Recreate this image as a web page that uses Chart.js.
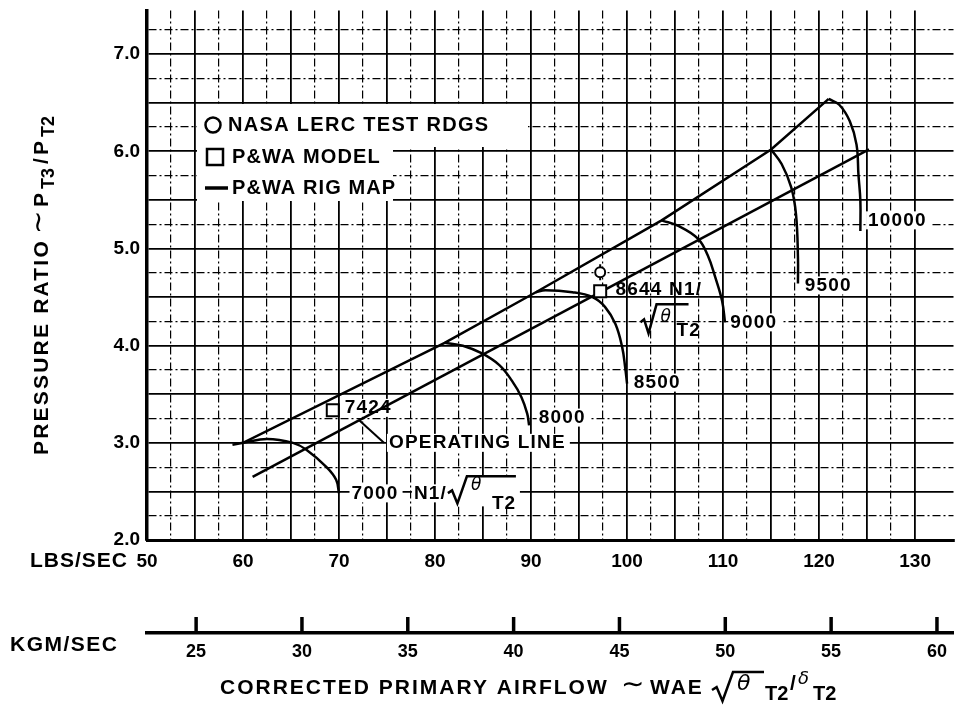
<!DOCTYPE html>
<html>
<head>
<meta charset="utf-8">
<script src="https://cdn.jsdelivr.net/npm/chart.js@4.4.0/dist/chart.umd.min.js"></script>
<style>
  html, body { margin: 0; padding: 0; background: #fff; }
  #wrap { width: 964px; height: 708px; }
</style>
</head>
<body>
<div id="wrap"><canvas id="mapChart" width="964" height="708"></canvas></div>
<script>
// compressor map values (airflow lbs/sec, pressure ratio)
var surgeX = [58.9, 60.0, 81.0, 90.5, 103.6, 115.0, 121.0];
var surgeY = [2.98, 3.00, 4.03, 4.55, 5.29, 6.02, 6.54];

var opLineX = [61.0, 125.2];
var opLineY = [2.65, 6.02];

var speedNames = ['7000', '8000', '8500', '9000', '9500', '10000'];
var speedX = [
  [60.0, 62.5, 65.2, 66.6, 68.7, 69.7, 70.0],
  [81.0, 82.9, 84.9, 86.7, 88.0, 89.0, 89.6, 89.8],
  [90.5, 91.5, 94.3, 96.4, 97.7, 98.8, 99.5, 99.8, 100.0],
  [103.6, 105.4, 107.4, 108.4, 109.2, 109.9, 110.2],
  [115.0, 116.1, 117.1, 117.6, 117.8, 117.8],
  [121.0, 122.1, 123.2, 123.9, 124.1, 124.3, 124.3]
];
var speedY = [
  [3.00, 3.04, 3.00, 2.93, 2.75, 2.62, 2.48],
  [4.03, 4.00, 3.92, 3.80, 3.64, 3.47, 3.30, 3.18],
  [4.55, 4.57, 4.55, 4.50, 4.40, 4.22, 3.98, 3.78, 3.61],
  [5.29, 5.23, 5.10, 4.93, 4.70, 4.46, 4.24],
  [6.02, 5.87, 5.63, 5.35, 4.91, 4.64],
  [6.54, 6.48, 6.31, 6.07, 5.76, 5.49, 5.18]
];

var nasaX = [97.2];
var nasaY = [4.755];
var modelX = [69.35, 97.2];
var modelY = [3.335, 4.56];

// tick labels
var lbsTicks = [50, 60, 70, 80, 90, 100, 110, 120, 130];
var kgTicks = [25, 30, 35, 40, 45, 50, 55, 60];
var prTicks = [2, 3, 4, 5, 6, 7];
var LB_PER_KG = 2.20462;

// text annotations (anchor = left/middle, in data units)
var noteText = ['7424', 'OPERATING LINE', '7000', 'N1/', '8000', '8500', '8644 N1/', '9000', '9500', '10000'];
var noteX = [70.6, 75.2, 71.3, 77.8, 90.8, 100.7, 98.8, 110.75, 118.5, 125.1];
var noteY = [3.36, 3.00, 2.48, 2.48, 3.26, 3.62, 4.58, 4.24, 4.62, 5.29];

var FONT = '"Liberation Sans", Arial, Helvetica, sans-serif';
var NOTE_FONT = 'bold 19px ' + FONT;

function pts(xs, ys) {
  return xs.map(function (x, i) { return { x: x, y: ys[i] }; });
}

var datasets = [];
datasets.push({ label: 'NASA LERC TEST RDGS', data: pts(nasaX, nasaY), pointStyle: 'circle',
  pointRadius: 5, borderColor: '#000', backgroundColor: '#fff', borderWidth: 2, order: 0 });
datasets.push({ label: 'nasa bar', data: pts(nasaX, nasaY), pointStyle: 'line', pointRotation: 90,
  pointRadius: 8, borderColor: '#000', borderWidth: 2, order: 0 });
datasets.push({ label: 'P&WA MODEL', data: pts(modelX, modelY), pointStyle: 'rect',
  pointRadius: 8.5, borderColor: '#000', backgroundColor: '#fff', borderWidth: 2, order: 0 });
datasets.push({ label: 'model mark', data: pts(modelX, modelY), pointStyle: 'line', pointRotation: [0, 45],
  pointRadius: 4.5, borderColor: '#000', borderWidth: 1.5, order: 0 });
datasets.push({ label: 'P&WA RIG MAP', data: pts(surgeX, surgeY), showLine: true, pointRadius: 0,
  borderColor: '#000', borderWidth: 2.5, tension: 0, order: 1 });
datasets.push({ label: 'OPERATING LINE', data: pts(opLineX, opLineY), showLine: true, pointRadius: 0,
  borderColor: '#000', borderWidth: 2.5, tension: 0, order: 1 });
for (var s = 0; s < speedNames.length; s++) {
  datasets.push({ label: speedNames[s], data: pts(speedX[s], speedY[s]), showLine: true, pointRadius: 0,
    borderColor: '#000', borderWidth: 2.5, tension: 0.4, order: 1 });
}

function txt(ctx, str, x, y, font, ls, align) {
  ctx.font = font;
  ctx.letterSpacing = ls || '0px';
  ctx.textAlign = align || 'left';
  ctx.textBaseline = 'middle';
  ctx.fillText(str, x, y);
  var w = ctx.measureText(str).width;
  ctx.letterSpacing = '0px';
  return w;
}

function radical(ctx, x, y, h, w, end) {
  ctx.beginPath();
  ctx.moveTo(x, y + h * 0.62);
  ctx.lineTo(x + w * 0.22, y + h * 0.52);
  ctx.lineTo(x + w * 0.5, y + h);
  ctx.lineTo(x + w, y);
  ctx.lineTo(end, y);
  ctx.lineWidth = 2.5;
  ctx.strokeStyle = '#000';
  ctx.stroke();
}

var overlay = {
  id: 'overlay',
  beforeDatasetsDraw: function (chart) {
    var ctx = chart.ctx, sx = chart.scales.x, sy = chart.scales.y;
    ctx.save();
    ctx.fillStyle = '#fff';
    // legend box
    ctx.fillRect(197, 104, 196, 97);
    ctx.fillRect(393, 104, 135, 43);
    // patches behind the notes
    ctx.font = NOTE_FONT;
    ctx.letterSpacing = '1.2px';
    for (var i = 0; i < noteText.length; i++) {
      if (noteText[i] === '8644 N1/') continue;
      var w = ctx.measureText(noteText[i]).width;
      var px = sx.getPixelForValue(noteX[i]), py = sy.getPixelForValue(noteY[i]);
      ctx.fillRect(px - 2, py - 9, w + 6, 18);
    }
    var p7 = sx.getPixelForValue(noteX[3]);
    ctx.fillRect(p7 + 32, sy.getPixelForValue(noteY[3]) - 17, 74, 30);
    ctx.restore();
  },
  afterDraw: function (chart) {
    var ctx = chart.ctx, sx = chart.scales.x, sy = chart.scales.y, sk = chart.scales.x2;
    ctx.save();
    ctx.fillStyle = '#000';
    ctx.strokeStyle = '#000';

    // upward ticks on the kg/sec scale
    ctx.lineWidth = 3.5;
    kgTicks.forEach(function (v) {
      var px = sk.getPixelForValue(v);
      ctx.beginPath();
      ctx.moveTo(px, sk.top);
      ctx.lineTo(px, sk.top - 16);
      ctx.stroke();
    });

    // notes
    for (var i = 0; i < noteText.length; i++) {
      txt(ctx, noteText[i], sx.getPixelForValue(noteX[i]), sy.getPixelForValue(noteY[i]), NOTE_FONT, '1.2px');
    }
    // 7000 N1/ sqrt(theta T2)
    var ax = sx.getPixelForValue(noteX[3]), ay = sy.getPixelForValue(noteY[3]);
    radical(ctx, ax + 34, ay - 17, 27, 19, ax + 102);
    txt(ctx, '\u03b8', ax + 57, ay - 8, 'italic 17px "DejaVu Sans", sans-serif');
    txt(ctx, 'T2', ax + 78, ay + 10, 'bold 19px ' + FONT, '1px');
    // 8644 N1/ sqrt(theta T2) on the second line
    var bx = sx.getPixelForValue(noteX[6]), by = sy.getPixelForValue(noteY[6]);
    radical(ctx, bx + 25, by + 15, 29, 16, bx + 73);
    txt(ctx, '\u03b8', bx + 45, by + 28, 'italic 17px "DejaVu Sans", sans-serif');
    txt(ctx, 'T2', bx + 61, by + 41, 'bold 19px ' + FONT, '1px');

    // leader from operating line to its label
    var lx = sx.getPixelForValue(noteX[1]), ly = sy.getPixelForValue(noteY[1]);
    var ox = 72.1, oy = opLineY[0] + (ox - opLineX[0]) * (opLineY[1] - opLineY[0]) / (opLineX[1] - opLineX[0]);
    ctx.lineWidth = 2;
    ctx.beginPath();
    ctx.moveTo(sx.getPixelForValue(ox), sy.getPixelForValue(oy));
    ctx.lineTo(lx - 5, ly);
    ctx.stroke();

    // legend
    ctx.lineWidth = 2.5;
    ctx.beginPath(); ctx.arc(213, 125, 7.5, 0, Math.PI * 2); ctx.stroke();
    ctx.strokeRect(207, 149, 16, 16);
    ctx.lineWidth = 3.5;
    ctx.beginPath(); ctx.moveTo(205, 188); ctx.lineTo(228, 188); ctx.stroke();
    var lf = 'bold 20px ' + FONT;
    txt(ctx, datasets[0].label, 228, 125, lf, '1.3px');
    txt(ctx, datasets[2].label, 232, 157, lf, '1.1px');
    txt(ctx, datasets[4].label, 232, 188, lf, '1.1px');

    // axis captions
    var tf = 'bold 21px ' + FONT;
    txt(ctx, 'LBS/SEC', 30, 561, tf, '1px');
    txt(ctx, 'KGM/SEC', 10, 645, tf, '1.5px');

    // bottom title
    txt(ctx, 'CORRECTED PRIMARY AIRFLOW', 220, 688, tf, '2px');
    txt(ctx, '\u223c', 621, 686, '28px "DejaVu Sans", sans-serif');
    txt(ctx, 'WAE', 650, 688, tf, '2px');
    radical(ctx, 712, 672, 29, 21, 764);
    txt(ctx, '\u03b8', 737, 684, 'italic 22px "DejaVu Sans", sans-serif');
    txt(ctx, 'T2', 765, 694, 'bold 20px ' + FONT);
    txt(ctx, '/', 790, 684, 'bold 21px ' + FONT);
    txt(ctx, '\u03b4', 798, 679, 'italic 18px "DejaVu Sans", sans-serif');
    txt(ctx, 'T2', 813, 694, 'bold 20px ' + FONT);

    // left title, rotated
    ctx.translate(42, 455);
    ctx.rotate(-Math.PI / 2);
    txt(ctx, 'PRESSURE RATIO', 0, 0, tf, '2.2px');
    txt(ctx, '\u223c', 221, -2, '28px "DejaVu Sans", sans-serif');
    txt(ctx, 'P', 248, 0, tf);
    txt(ctx, 'T3', 266, 7, 'bold 18px ' + FONT);
    txt(ctx, '/', 291, 0, tf);
    txt(ctx, 'P', 300, 0, tf);
    txt(ctx, 'T2', 318, 7, 'bold 18px ' + FONT);
    ctx.restore();
  }
};

function gridWidth(major) { return major ? 1.8 : 1.2; }

var ctx = document.getElementById('mapChart').getContext('2d');
var mapChart = new Chart(ctx, {
  type: 'scatter',
  data: { datasets: datasets },
  options: {
    responsive: false,
    animation: false,
    devicePixelRatio: 1,
    layout: { padding: { top: 8, right: 8, bottom: 0, left: 0 } },
    plugins: { legend: { display: false }, tooltip: { enabled: false } },
    scales: {
      x: {
        type: 'linear', position: 'bottom', weight: 0, min: 50, max: 134,
        afterBuildTicks: function (axis) {
          var t = [];
          for (var v = 50; v <= 130; v += 2.5) t.push({ value: v });
          axis.ticks = t;
        },
        afterFit: function (axis) { axis.height = 93; axis.paddingLeft = 0; axis.paddingRight = 0; },
        ticks: {
          autoSkip: false, maxRotation: 0, padding: 10, color: '#000',
          font: { family: FONT, size: 19, weight: 'bold' },
          callback: function (v) { return lbsTicks.indexOf(v) >= 0 ? String(v) : ''; }
        },
        grid: {
          color: '#000', drawTicks: false,
          lineWidth: function (c) { return gridWidth(c.tick && c.tick.value % 5 === 0); }
        },
        border: {
          display: true, color: '#000', width: 3,
          dash: function (c) { return (c.tick && c.tick.value % 5 !== 0) ? [8, 3, 2, 3] : []; }
        }
      },
      x2: {
        type: 'linear', position: 'bottom', weight: 1,
        min: 50 / LB_PER_KG, max: 134 / LB_PER_KG,
        afterBuildTicks: function (axis) {
          axis.ticks = kgTicks.map(function (v) { return { value: v }; });
        },
        afterFit: function (axis) { axis.height = 75; axis.paddingLeft = 0; axis.paddingRight = 0; },
        ticks: {
          autoSkip: false, maxRotation: 0, padding: 8, color: '#000',
          font: { family: FONT, size: 18, weight: 'bold' },
          callback: function (v) { return String(v); }
        },
        grid: { drawOnChartArea: false, drawTicks: false },
        border: { display: true, color: '#000', width: 3.5 }
      },
      y: {
        type: 'linear', position: 'left', min: 2, max: 7.45,
        afterBuildTicks: function (axis) {
          var t = [];
          for (var v = 2; v <= 7.25; v += 0.25) t.push({ value: v });
          axis.ticks = t;
        },
        afterFit: function (axis) { axis.width = 147; axis.paddingTop = 0; axis.paddingBottom = 0; },
        ticks: {
          autoSkip: false, padding: 7, color: '#000',
          font: { family: FONT, size: 19, weight: 'bold' },
          callback: function (v) { return prTicks.indexOf(v) >= 0 ? v.toFixed(1) : ''; }
        },
        grid: {
          color: '#000', drawTicks: false,
          lineWidth: function (c) { return gridWidth(c.tick && (c.tick.value * 2) % 1 === 0); }
        },
        border: {
          display: true, color: '#000', width: 3.5,
          dash: function (c) { return (c.tick && (c.tick.value * 2) % 1 !== 0) ? [8, 3, 2, 3] : []; }
        }
      }
    }
  },
  plugins: [overlay]
});
</script>
</body>
</html>
